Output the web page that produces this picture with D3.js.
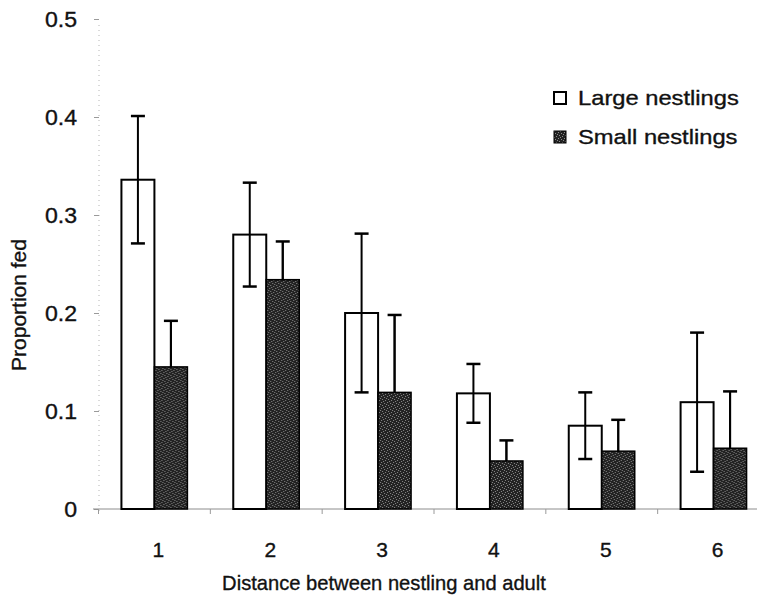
<!DOCTYPE html>
<html>
<head>
<meta charset="utf-8">
<script src="https://cdn.jsdelivr.net/npm/d3@7"></script>
<style>
  html, body { margin: 0; padding: 0; background: #fff; }
  svg { display: block; }
  text { font-family: "Liberation Sans", Arial, sans-serif; fill: #111; stroke: #111; stroke-width: 0.35px; }
</style>
</head>
<body>
<svg id="chart" width="764" height="602"></svg>
<script>
// Distances between nestling and adult
const categories = ["1", "2", "3", "4", "5", "6"];
// Mean proportion of feeds
const largeValues = [0.336, 0.280, 0.200, 0.118, 0.085, 0.109];
const smallValues = [0.145, 0.234, 0.119, 0.049, 0.059, 0.062];
// Error bar half-lengths
const largeErrors = [0.065, 0.053, 0.081, 0.030, 0.034, 0.071];
const smallErrors = [0.047, 0.039, 0.079, 0.021, 0.032, 0.058];
const seriesNames = ["Large nestlings", "Small nestlings"];
const yTicks = [0, 0.1, 0.2, 0.3, 0.4, 0.5];

const svg = d3.select("#chart");

// Speckled dark fill for the small-nestling bars
const defs = svg.append("defs");
const pat = defs.append("pattern")
  .attr("id", "speckle")
  .attr("patternUnits", "userSpaceOnUse")
  .attr("width", 6).attr("height", 6);
pat.append("rect").attr("width", 6).attr("height", 6).attr("fill", "#222");
[[0.5, 0.5], [3.5, 1.5], [1.5, 3.5], [4.5, 4.5], [2.5, 5.5], [5.5, 2.5]].forEach(([px, py]) => {
  pat.append("rect").attr("x", px - 0.5).attr("y", py - 0.5)
    .attr("width", 1).attr("height", 1).attr("fill", "#8a8a8a");
});

const x0 = d3.scaleBand()
  .domain(categories)
  .range([98.5, 769.5])
  .paddingInner(0.41)
  .paddingOuter(0.205);

const x1 = d3.scaleBand()
  .domain(["large", "small"])
  .range([0, x0.bandwidth()]);

const y = d3.scaleLinear().domain([0, 0.5]).range([509, 19]);

// Text helper with optional horizontal stretch
function label(g, x, yy, str, opts = {}) {
  return g.append("text")
    .attr("transform", `translate(${x},${yy}) scale(${opts.sx || 1},1)`)
    .attr("text-anchor", opts.anchor || "middle")
    .attr("font-size", opts.size || 21)
    .text(str);
}

// Y axis: faint dotted line with short ticks
const yAxis = svg.append("g")
  .attr("transform", "translate(99,0)")
  .call(d3.axisLeft(y).tickValues(yTicks).tickSize(5).tickFormat(""));
yAxis.select(".domain")
  .attr("stroke", "#b5b5b5").attr("stroke-width", 1)
  .attr("stroke-dasharray", "1,4")
  .attr("d", `M0,${y(0.5) + 6}V${y(0) + 4}`);
yAxis.selectAll(".tick line").attr("stroke", "#9a9a9a").attr("stroke-width", 1);

yTicks.forEach(v => {
  label(svg, 77, y(v) + 8, v === 0 ? "0" : d3.format(".1f")(v), { anchor: "end", sx: 1.05, size: 22 });
});

// X axis baseline with boundary ticks
const xAxis = svg.append("g").attr("transform", `translate(0,${y(0)})`);
xAxis.append("line")
  .attr("x1", 93).attr("x2", 757)
  .attr("stroke", "#8c8c8c").attr("stroke-width", 1);
categories.forEach(c => {
  const bx = x0(c) - x0.step() * x0.paddingInner() / 2;
  xAxis.append("line")
    .attr("x1", bx).attr("x2", bx).attr("y1", 0).attr("y2", 5)
    .attr("stroke", "#9a9a9a").attr("stroke-width", 1);
  label(svg, x0(c) + x0.bandwidth() / 2 + 4, 557, c, { sx: 1.0, size: 21 });
});

// Bar groups
const groups = svg.append("g").selectAll("g")
  .data(categories)
  .join("g")
  .attr("transform", d => `translate(${x0(d)},0)`);

// Large nestling bars
groups.append("rect")
  .attr("x", x1("large"))
  .attr("y", (d, i) => y(largeValues[i]))
  .attr("width", x1.bandwidth())
  .attr("height", (d, i) => y(0) - y(largeValues[i]))
  .attr("fill", "#fff").attr("stroke", "#000").attr("stroke-width", 2);

// Error bars (drawn before the small bars so the lower arm sits under the dark fill)
function errorBar(sel, key, vals, errs) {
  const cx = x1(key) + x1.bandwidth() / 2;
  const cap = 7;
  sel.append("line")
    .attr("x1", cx).attr("x2", cx)
    .attr("y1", (d, i) => y(vals[i] + errs[i]))
    .attr("y2", (d, i) => y(vals[i] - errs[i]))
    .attr("stroke", "#000").attr("stroke-width", 2);
  [1, -1].forEach(s => {
    sel.append("line")
      .attr("x1", cx - cap).attr("x2", cx + cap)
      .attr("y1", (d, i) => y(vals[i] + s * errs[i]))
      .attr("y2", (d, i) => y(vals[i] + s * errs[i]))
      .attr("stroke", "#000").attr("stroke-width", 2.5);
  });
}
errorBar(groups, "large", largeValues, largeErrors);
errorBar(groups, "small", smallValues, smallErrors);

// Small nestling bars
groups.append("rect")
  .attr("x", x1("small"))
  .attr("y", (d, i) => y(smallValues[i]))
  .attr("width", x1.bandwidth())
  .attr("height", (d, i) => y(0) - y(smallValues[i]))
  .attr("fill", "url(#speckle)").attr("stroke", "#000").attr("stroke-width", 1.5);

// Visible upper arm of the small-bar error bars
(function () {
  const cx = x1("small") + x1.bandwidth() / 2;
  groups.append("line")
    .attr("x1", cx).attr("x2", cx)
    .attr("y1", (d, i) => y(smallValues[i] + smallErrors[i]))
    .attr("y2", (d, i) => y(smallValues[i]))
    .attr("stroke", "#000").attr("stroke-width", 2);
})();

// Axis titles
label(svg, 384, 590, "Distance between nestling and adult", { sx: 0.96, size: 21 });
svg.append("text")
  .attr("transform", "translate(26,305) rotate(-90)")
  .attr("text-anchor", "middle")
  .attr("font-size", 21)
  .text("Proportion fed");

// Legend
const legend = svg.append("g");
seriesNames.forEach((name, i) => {
  const ly = 98 + i * 39;
  legend.append("rect")
    .attr("x", 554).attr("y", ly - 6)
    .attr("width", 12).attr("height", 12)
    .attr("fill", i === 0 ? "#fff" : "url(#speckle)")
    .attr("stroke", "#000").attr("stroke-width", i === 0 ? 2 : 1);
  label(legend, 578, ly + 7, name, { anchor: "start", sx: 1.13, size: 21 });
});
</script>
</body>
</html>
